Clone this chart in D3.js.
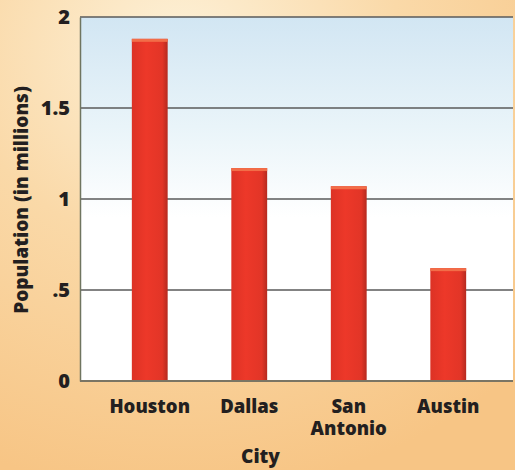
<!DOCTYPE html>
<html>
<head>
<meta charset="utf-8">
<script src="https://cdn.jsdelivr.net/npm/d3@7"></script>
<style>
  body { margin: 0; padding: 0; overflow: hidden; }
  svg { display: block; }
  text { font-family: "Open Sans", "Noto Sans", sans-serif; font-weight: 800; fill: #231f20; }
</style>
</head>
<body>
<div id="chart"></div>
<script>
// chart data
var cities = ["Houston", "Dallas", "San Antonio", "Austin"];
var population = [1.88, 1.17, 1.07, 0.62];
var yTicks = [0, 0.5, 1, 1.5, 2];
var yTickLabels = ["0", ".5", "1", "1.5", "2"];

var svgWidth = 515;
var svgHeight = 470;

var margin = { top: 17, right: 2, bottom: 89, left: 80 };
var width = svgWidth - margin.left - margin.right;
var height = svgHeight - margin.top - margin.bottom;

var svg = d3.select("#chart")
  .append("svg")
  .attr("width", svgWidth)
  .attr("height", svgHeight);

var defs = svg.append("defs");

// peach page background
var bg = defs.append("radialGradient")
  .attr("id", "bgGrad")
  .attr("cx", "0.35").attr("cy", "0.1").attr("r", "0.95");
bg.append("stop").attr("offset", "0%").attr("stop-color", "#fdf1d8");
bg.append("stop").attr("offset", "45%").attr("stop-color", "#fad9a8");
bg.append("stop").attr("offset", "100%").attr("stop-color", "#f7c585");

// plot area: light blue at top fading to white
var plotGrad = defs.append("linearGradient")
  .attr("id", "plotGrad")
  .attr("x1", 0).attr("y1", 0).attr("x2", 0).attr("y2", 1);
plotGrad.append("stop").attr("offset", "0%").attr("stop-color", "#d2e6f3");
plotGrad.append("stop").attr("offset", "30%").attr("stop-color", "#e9f4f9");
plotGrad.append("stop").attr("offset", "55%").attr("stop-color", "#ffffff");
plotGrad.append("stop").attr("offset", "100%").attr("stop-color", "#ffffff");

// bar shading
var barGrad = defs.append("linearGradient")
  .attr("id", "barGrad")
  .attr("x1", 0).attr("y1", 0).attr("x2", 1).attr("y2", 0);
barGrad.append("stop").attr("offset", "0%").attr("stop-color", "#dc3225");
barGrad.append("stop").attr("offset", "40%").attr("stop-color", "#ed3829");
barGrad.append("stop").attr("offset", "85%").attr("stop-color", "#e23527");
barGrad.append("stop").attr("offset", "100%").attr("stop-color", "#b52a1f");

svg.append("rect")
  .attr("width", svgWidth)
  .attr("height", svgHeight)
  .attr("fill", "url(#bgGrad)");

var chartGroup = svg.append("g")
  .attr("transform", `translate(${margin.left}, ${margin.top})`);

// scales
var xBandScale = d3.scaleBand()
  .domain(cities)
  .range([20, 418])
  .paddingInner(0.64)
  .paddingOuter(0.32);

var yLinearScale = d3.scaleLinear()
  .domain([0, 2])
  .range([height, 0]);

// plot background
chartGroup.append("rect")
  .attr("width", width)
  .attr("height", height)
  .attr("fill", "url(#plotGrad)");

// gridlines
chartGroup.append("g")
  .selectAll("line")
  .data(yTicks.slice(1))
  .enter()
  .append("line")
  .attr("x1", 0)
  .attr("x2", width)
  .attr("y1", d => yLinearScale(d))
  .attr("y2", d => yLinearScale(d))
  .attr("stroke", "#5a5a5a")
  .attr("stroke-width", 1.5);

// bars
var bars = chartGroup.append("g")
  .selectAll("g")
  .data(cities)
  .enter()
  .append("g");

bars.append("rect")
  .attr("x", d => xBandScale(d))
  .attr("y", (d, i) => yLinearScale(population[i]))
  .attr("width", xBandScale.bandwidth())
  .attr("height", (d, i) => height - yLinearScale(population[i]))
  .attr("fill", "url(#barGrad)");

// lighter top cap
bars.append("rect")
  .attr("x", d => xBandScale(d))
  .attr("y", (d, i) => yLinearScale(population[i]))
  .attr("width", xBandScale.bandwidth())
  .attr("height", 3)
  .attr("fill", "#f26d48");

// y axis
var leftAxis = d3.axisLeft(yLinearScale)
  .tickValues(yTicks)
  .tickFormat((d, i) => yTickLabels[i])
  .tickSize(0)
  .tickPadding(10);

var yAxis = chartGroup.append("g").call(leftAxis);
yAxis.select(".domain").attr("stroke", "#6f7560").attr("stroke-width", 1.5);
yAxis.selectAll("text")
  .attr("font-size", 20)
  .attr("fill", "#231f20")
  .style("font-family", "'Open Sans', sans-serif")
  .style("font-weight", 800);

// x axis line
chartGroup.append("line")
  .attr("x1", 0)
  .attr("x2", width)
  .attr("y1", height)
  .attr("y2", height)
  .attr("stroke", "#7a7564")
  .attr("stroke-width", 2);

// category labels, one text per line
var labelLines = [];
cities.forEach(function(c) {
  c.split(" ").forEach(function(w, j) {
    labelLines.push({ city: c, word: w, line: j });
  });
});

chartGroup.append("g")
  .selectAll("text")
  .data(labelLines)
  .enter()
  .append("text")
  .attr("text-anchor", "middle")
  .attr("font-size", 18.5)
  .attr("x", d => xBandScale(d.city) + xBandScale.bandwidth() / 2)
  .attr("y", d => height + 32 + d.line * 22)
  .text(d => d.word);

// axis titles
chartGroup.append("text")
  .attr("x", width / 2 - 36)
  .attr("y", height + 82)
  .attr("text-anchor", "middle")
  .attr("font-size", 19)
  .text("City");

svg.append("text")
  .attr("transform", "translate(28, 200) rotate(-90)")
  .attr("text-anchor", "middle")
  .attr("font-size", 19)
  .text("Population (in millions)");
</script>
</body>
</html>
